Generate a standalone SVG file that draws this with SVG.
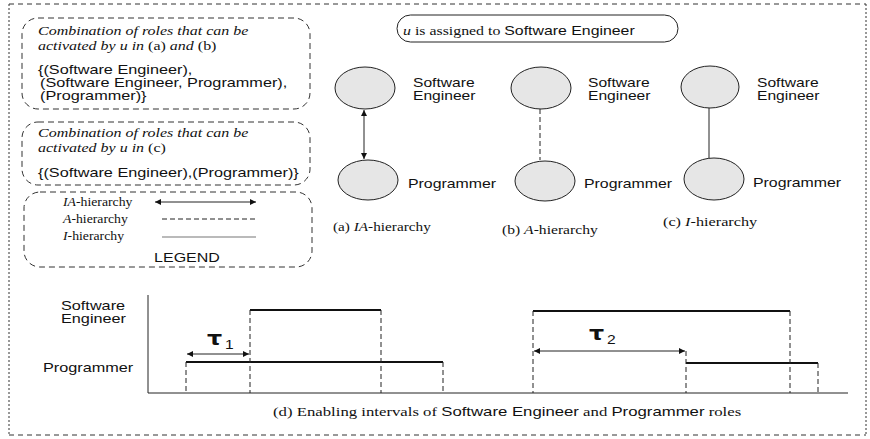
<svg xmlns="http://www.w3.org/2000/svg" width="870" height="439" viewBox="0 0 870 439">
<style>
.serif{font-family:"Liberation Serif","Times New Roman",serif;font-size:12.5px;fill:#111}
.it{font-style:italic}
.sans{font-family:"Liberation Sans",Arial,sans-serif;font-size:12.5px;fill:#111}
.box{fill:none;stroke:#333;stroke-width:1;stroke-dasharray:6,4}
.node{fill:#e6e6e6;stroke:#222;stroke-width:1}
.ln{stroke:#222;stroke-width:1;fill:none}
.dash{stroke:#222;stroke-width:1;stroke-dasharray:5,3;fill:none}
.thick{stroke:#111;stroke-width:2;fill:none}
</style>
<defs>
<marker id="ah" viewBox="0 0 10 10" refX="10" refY="5" markerWidth="8" markerHeight="6" orient="auto-start-reverse" markerUnits="userSpaceOnUse"><path d="M0,0 L10,5 L0,10 z" fill="#111"/></marker>
<marker id="ah2" viewBox="0 0 10 10" refX="10" refY="5" markerWidth="14" markerHeight="6" orient="auto-start-reverse" markerUnits="userSpaceOnUse"><path d="M0,0 L10,5 L0,10 z" fill="#111"/></marker>
</defs>
<g id="frame">
<line x1="9" y1="4" x2="866" y2="4" stroke="#333" stroke-dasharray="5,4"/>
<line x1="9" y1="435" x2="866" y2="435" stroke="#333" stroke-dasharray="5,4"/>
<line x1="9" y1="4" x2="9" y2="435" stroke="#333" stroke-dasharray="2,2"/>
<line x1="866" y1="4" x2="866" y2="435" stroke="#333" stroke-dasharray="2,2"/>
</g>
<g id="box-ab">
<rect class="box" x="22" y="18" width="288" height="91" rx="16"/>
<text class="serif it" transform="matrix(1.28,0,0,1,38,35)">Combination of roles that can be</text>
<text class="serif" transform="matrix(1.28,0,0,1,38,50)"><tspan class="it">activated by u in</tspan> (a) <tspan class="it">and</tspan> (b)</text>
<text class="sans" transform="matrix(1.3,0,0,1,38,74)">{(Software Engineer),</text>
<text class="sans" transform="matrix(1.3,0,0,1,40,87)">(Software Engineer, Programmer),</text>
<text class="sans" transform="matrix(1.3,0,0,1,40,100)">(Programmer)}</text>
</g>
<g id="box-c">
<rect class="box" x="22" y="122" width="288" height="63" rx="16"/>
<text class="serif it" transform="matrix(1.28,0,0,1,38,137)">Combination of roles that can be</text>
<text class="serif" transform="matrix(1.28,0,0,1,38,152)"><tspan class="it">activated by u in</tspan> (c)</text>
<text class="sans" transform="matrix(1.3,0,0,1,38,177)">{(Software Engineer),(Programmer)}</text>
</g>
<g id="legend">
<rect class="box" x="24" y="192" width="288" height="75" rx="16"/>
<text class="serif" transform="matrix(1.1,0,0,1,63,206)"><tspan class="it">IA</tspan>-hierarchy</text>
<text class="serif" transform="matrix(1.1,0,0,1,63,223)"><tspan class="it">A</tspan>-hierarchy</text>
<text class="serif" transform="matrix(1.1,0,0,1,63,240)"><tspan class="it">I</tspan>-hierarchy</text>
<line class="ln" x1="155" y1="202" x2="256" y2="202" marker-start="url(#ah2)" marker-end="url(#ah2)"/>
<line class="dash" x1="162" y1="219" x2="256" y2="219" stroke-dasharray="7,4"/>
<line x1="162" y1="237" x2="256" y2="237" stroke="#777" stroke-width="1.2"/>
<text class="sans" text-anchor="middle" transform="matrix(1.28,0,0,1,187,262)">LEGEND</text>
</g>
<g id="assigned">
<rect x="397" y="15" width="281" height="27" rx="13.5" fill="none" stroke="#222"/>
<text class="serif" transform="matrix(1.27,0,0,1,403,35)"><tspan class="it">u</tspan> is assigned to <tspan class="sans">Software Engineer</tspan></text>
</g>
<g id="connectors">
<line class="ln" x1="364" y1="110" x2="364" y2="159" marker-start="url(#ah)" marker-end="url(#ah)" stroke-width="1.3"/>
<line class="dash" x1="540" y1="109" x2="540" y2="160" stroke-dasharray="4,3"/>
<line class="ln" x1="709" y1="108" x2="709" y2="158"/>
</g>
<g id="a-se"><ellipse class="node" cx="365" cy="88" rx="30" ry="21"/><text class="sans" transform="matrix(1.25,0,0,1,413,87)">Software</text><text class="sans" transform="matrix(1.25,0,0,1,413,100)">Engineer</text></g>
<g id="a-pr"><ellipse class="node" cx="368" cy="180" rx="30" ry="20"/><text class="sans" transform="matrix(1.27,0,0,1,408,188)">Programmer</text></g>
<g id="b-se"><ellipse class="node" cx="541" cy="88" rx="30" ry="21"/><text class="sans" transform="matrix(1.25,0,0,1,588,87)">Software</text><text class="sans" transform="matrix(1.25,0,0,1,588,100)">Engineer</text></g>
<g id="b-pr"><ellipse class="node" cx="545" cy="181" rx="30" ry="20"/><text class="sans" transform="matrix(1.27,0,0,1,584,188)">Programmer</text></g>
<g id="c-se"><ellipse class="node" cx="710" cy="87" rx="29" ry="21"/><text class="sans" transform="matrix(1.25,0,0,1,757,87)">Software</text><text class="sans" transform="matrix(1.25,0,0,1,757,100)">Engineer</text></g>
<g id="c-pr"><ellipse class="node" cx="714" cy="179" rx="30" ry="21"/><text class="sans" transform="matrix(1.27,0,0,1,753,187)">Programmer</text></g>
<g id="captions">
<text class="serif" transform="matrix(1.22,0,0,1,333,231)">(a) <tspan class="it">IA</tspan>-hierarchy</text>
<text class="serif" transform="matrix(1.25,0,0,1,502,234)">(b) <tspan class="it">A</tspan>-hierarchy</text>
<text class="serif" transform="matrix(1.3,0,0,1,663,226)">(c) <tspan class="it">I</tspan>-hierarchy</text>
</g>
<g id="timeline">
<text class="sans" transform="matrix(1.3,0,0,1,61,310)">Software</text>
<text class="sans" transform="matrix(1.3,0,0,1,61,323)">Engineer</text>
<text class="sans" transform="matrix(1.3,0,0,1,43,372)">Programmer</text>
<line class="ln" x1="148" y1="295" x2="148" y2="393"/>
<line class="ln" x1="148" y1="393" x2="848" y2="393"/>
<line class="thick" x1="250" y1="310" x2="381" y2="310"/>
<line class="thick" x1="186" y1="362" x2="443" y2="362"/>
<line class="thick" x1="533" y1="311" x2="790" y2="311"/>
<line class="thick" x1="686" y1="363" x2="818" y2="363"/>
<line class="dash" x1="250" y1="310" x2="250" y2="393"/>
<line class="dash" x1="381" y1="310" x2="381" y2="393"/>
<line class="dash" x1="186" y1="362" x2="186" y2="393"/>
<line class="dash" x1="443" y1="362" x2="443" y2="393"/>
<line class="dash" x1="533" y1="311" x2="533" y2="393"/>
<line class="dash" x1="790" y1="311" x2="790" y2="393"/>
<line class="dash" x1="686" y1="351" x2="686" y2="393"/>
<line class="dash" x1="818" y1="363" x2="818" y2="393"/>
<line class="ln" x1="187" y1="354" x2="249" y2="354" marker-start="url(#ah2)" marker-end="url(#ah2)"/>
<line class="ln" x1="534" y1="351" x2="685" y2="351" marker-start="url(#ah2)" marker-end="url(#ah2)"/>
<text transform="matrix(1.25,0,0,1,207,345)" font-family="'DejaVu Sans',sans-serif" font-size="19" font-weight="bold" fill="#111">τ</text>
<text class="sans" transform="matrix(1.25,0,0,1,225,349)" font-size="14">1</text>
<text transform="matrix(1.25,0,0,1,589,340)" font-family="'DejaVu Sans',sans-serif" font-size="19" font-weight="bold" fill="#111">τ</text>
<text class="sans" transform="matrix(1.25,0,0,1,607,344)" font-size="14">2</text>
<text class="serif" transform="matrix(1.34,0,0,1,273,416)">(d) Enabling intervals of <tspan class="sans">Software Engineer</tspan> and <tspan class="sans">Programmer</tspan> roles</text>
</g>
</svg>
